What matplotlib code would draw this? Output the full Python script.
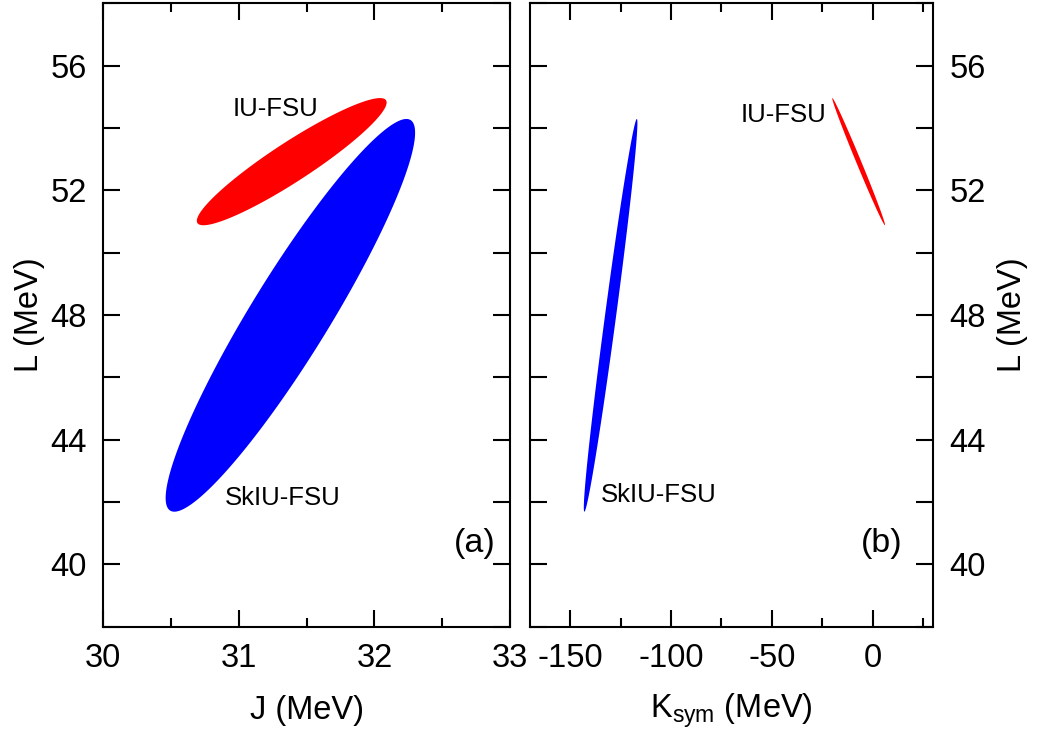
import numpy as np
import matplotlib
matplotlib.use('Agg')
from matplotlib import pyplot as plt
from matplotlib.ticker import MultipleLocator

plt.rcParams['font.family'] = ['Liberation Sans', 'DejaVu Sans']
plt.rcParams['axes.unicode_minus'] = False

# correlation ellipses: centre, spread and correlation of each fit
models = ['IU-FSU', 'SkIU-FSU']
colors = ['#ff0000', '#0000ff']
J_center = [31.39, 31.38]
J_sigma = [0.70, 0.92]
L_center = [52.92, 47.99]
L_sigma = [2.04, 6.30]
Ksym_center = [-6.9, -130.0]
Ksym_sigma = [13.1, 13.3]
rho_JL = [0.93, 0.93]
rho_KL = [-0.995, 0.978]

# label positions (data coords)
label_J = [31.27, 31.32]
label_L_left = [54.39, 41.91]
label_K = [-44.4, -106.0]
label_L_right = [54.18, 42.01]


def ellipse(cx, sx, cy, sy, rho, n=400):
    t = np.linspace(0, 2 * np.pi, n)
    x = cx + sx * np.cos(t)
    y = cy + sy * np.cos(t - np.arccos(rho))
    return x, y


def style(ax, xminor):
    ax.set_ylim(38, 58)
    ax.yaxis.set_major_locator(MultipleLocator(4))
    ax.yaxis.set_minor_locator(MultipleLocator(2))
    ax.xaxis.set_minor_locator(MultipleLocator(xminor))
    ax.tick_params(which='both', direction='in', top=True, right=True,
                   width=1.5, labelsize=23.5, pad=12)
    ax.tick_params(axis='x', which='major', length=12.2)
    ax.tick_params(axis='x', which='minor', length=6.5)
    ax.tick_params(axis='y', which='both', length=12.2)
    for s in ax.spines.values():
        s.set_linewidth(1.5)


fig = plt.figure(figsize=(10.37, 7.38), dpi=100)
ax1 = fig.add_axes([0.0996, 0.1508, 0.3922, 0.8447])
ax2 = fig.add_axes([0.5111, 0.1508, 0.3886, 0.8447])

#(a) L vs J
for i in range(len(models)):
    x, y = ellipse(J_center[i], J_sigma[i], L_center[i], L_sigma[i], rho_JL[i])
    ax1.fill(x, y, color=colors[i], lw=0)
    ax1.text(label_J[i], label_L_left[i], models[i], fontsize=18.5,
             ha='center', va='baseline')
ax1.set_xlim(30, 33)
ax1.xaxis.set_major_locator(MultipleLocator(1))
style(ax1, 0.5)
ax1.set_xlabel('J (MeV)', fontsize=23.5, labelpad=15)
ax1.set_ylabel('L (MeV)', fontsize=23.5, labelpad=4)
ax1.text(32.74, 40.4, '(a)', fontsize=24.5, ha='center', va='baseline')

#(b) L vs Ksym
for i in range(len(models)):
    x, y = ellipse(Ksym_center[i], Ksym_sigma[i], L_center[i], L_sigma[i], rho_KL[i])
    ax2.fill(x, y, color=colors[i], lw=0)
    ax2.text(label_K[i], label_L_right[i], models[i], fontsize=18.5,
             ha='center', va='baseline')
ax2.set_xlim(-170, 30)
ax2.xaxis.set_major_locator(MultipleLocator(50))
style(ax2, 25)
ax2.tick_params(axis='y', labelleft=False, labelright=True)
ax2.yaxis.set_label_position('right')
ax2.set_xlabel(r'K$_{\mathregular{sym}}$ (MeV)', fontsize=23.5, labelpad=12)
ax2.set_ylabel('L (MeV)', fontsize=23.5, labelpad=8)
ax2.text(4.4, 40.4, '(b)', fontsize=24.5, ha='center', va='baseline')

fig.savefig('out.png', dpi=100)
